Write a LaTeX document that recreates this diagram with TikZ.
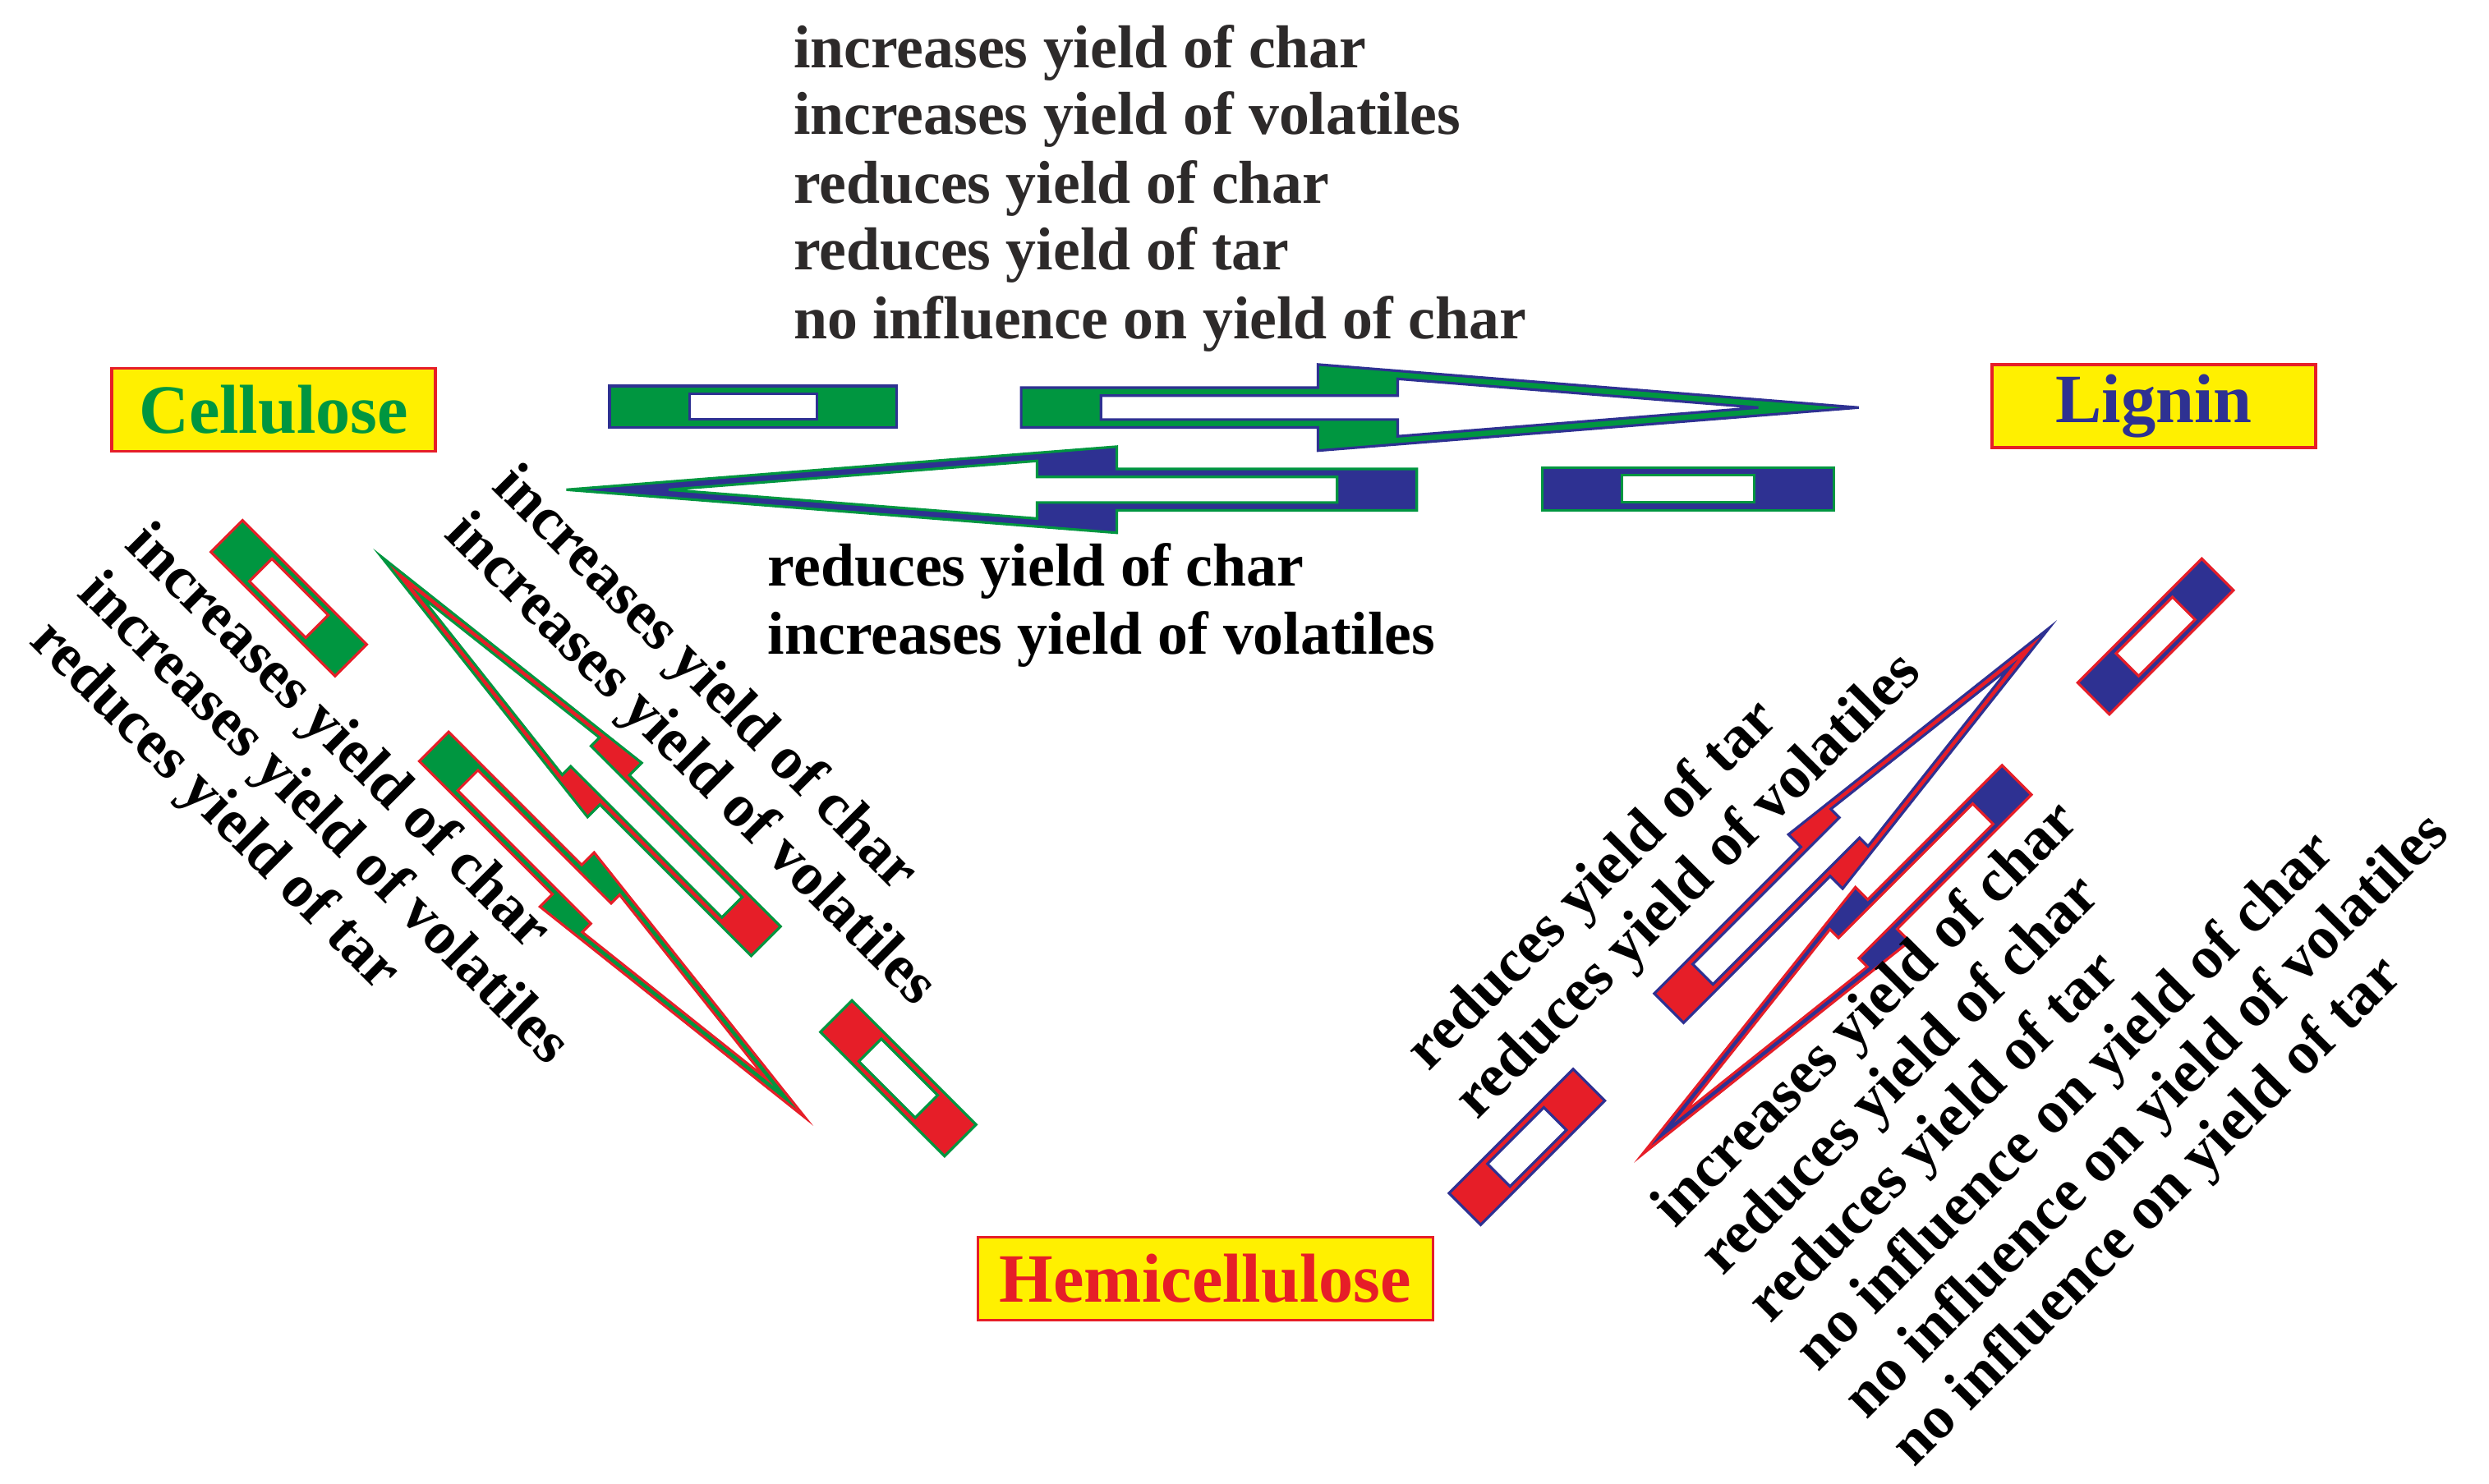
\documentclass[tikz,border=0pt]{standalone}
\usepackage{fontspec}
\setmainfont{Liberation Serif}
\definecolor{cgreen}{RGB}{0,150,64}
\definecolor{cnavy}{RGB}{46,49,146}
\definecolor{cred}{RGB}{230,30,40}
\definecolor{cyel}{RGB}{255,240,0}
\definecolor{ctxt}{RGB}{45,42,42}
\newcommand\tb{5}
\newcommand\kb{50}
% tail x, tail y, angle (screen, clockwise), length, head base, body hw, head hw, outline, fill
\newcommand\darrow[9]{%
 \begin{scope}[shift={(#1,#2)},rotate=-#3]
 \pgfmathsetmacro\xin{#4-\tb*veclen(#4-#5,#7)/(#7)}
 \pgfmathsetmacro\hin{(#7)*(\xin-(#5)-\kb)/((#4)-(#5))}
 \pgfmathsetmacro\wi{#6-\tb}
 \filldraw[fill=#9,draw=#8,shape line] (0,-#6)--(#5,-#6)--(#5,-#7)--(#4,0)--(#5,#7)--(#5,#6)--(0,#6)--cycle;
 \filldraw[fill=white,draw=#8,shape line] (\kb,-\wi)--(#5+\kb,-\wi)--(#5+\kb,-\hin)--(\xin,0)--(#5+\kb,\hin)--(#5+\kb,\wi)--(\kb,\wi)--cycle;
 \end{scope}}
% centre x, centre y, angle, length, hw, outline, fill
\newcommand\dbox[7]{%
 \begin{scope}[shift={(#1,#2)},rotate=-#3]
 \pgfmathsetmacro\wi{#5-\tb}
 \filldraw[fill=#7,draw=#6,shape line] (-#4/2,-#5) rectangle (#4/2,#5);
 \filldraw[fill=white,draw=#6,shape line] (-#4/2+\kb,-\wi) rectangle (#4/2-\kb,\wi);
 \end{scope}}
\begin{document}
\begin{tikzpicture}[x=0.019423cm,y=-0.019423cm,
 shape line/.style={line width=0.9pt,line join=miter},
 lbl/.style={font=\fontsize{21}{24}\selectfont\bfseries,inner sep=0pt,anchor=west},
 comp/.style={draw=cred,fill=cyel,line width=1pt,inner sep=0pt,minimum height=1.01cm,font=\fontsize{24}{28}\selectfont\bfseries}]
\useasboundingbox (0,0) rectangle (1560,930);
% top arrows
\dbox{472}{255}{0}{180}{13}{cnavy}{cgreen}
\darrow{640}{255.5}{0}{525}{186}{12.5}{27}{cnavy}{cgreen}
\darrow{888}{307}{180}{533}{188}{13}{27}{cgreen}{cnavy}
\dbox{1058}{306.5}{0}{183}{13.5}{cgreen}{cnavy}
% left side
\renewcommand\kb{30}
\renewcommand\tb{4}
\dbox{181}{375}{45}{110}{14}{cred}{cgreen}
\dbox{563}{676}{45}{110}{14}{cgreen}{cred}
\darrow{480}{590}{-135}{341}{134}{13}{24}{cgreen}{cred}
\darrow{272}{468}{45}{329}{118}{13}{24}{cred}{cgreen}
% right side
\dbox{1351}{399}{-45}{110}{14}{cred}{cnavy}
\dbox{957}{719}{-45}{110}{14}{cnavy}{cred}
\darrow{1046}{632}{-45}{337}{130}{13}{24}{cnavy}{cred}
\darrow{1264}{489}{135}{332}{119}{13}{24}{cred}{cnavy}
% component boxes
\node[comp,minimum width=3.94cm,text=cgreen] (cel) at (171.5,257) {Cellulose};
\node[comp,minimum width=3.94cm,text=cnavy] (lig) at (1350,254.5) {Lignin};
\node[comp,minimum width=5.54cm,text=cred] (hem) at (755.5,801.5) {Hemicellulose};
% top texts
\node[lbl,text=ctxt] (t1) at (497,33) {increases yield of char};
\node[lbl,text=ctxt] (t2) at (497,75) {increases yield of volatiles};
\node[lbl,text=ctxt] (t3) at (497,118) {reduces yield of char};
\node[lbl,text=ctxt] (t4) at (497,160) {reduces yield of tar};
\node[lbl,text=ctxt] (t5) at (497,203) {no influence on yield of char};
\node[lbl] (b1) at (481,358) {reduces yield of char};
\node[lbl] (b2) at (481,401) {increases yield of volatiles};
% left texts
\node[lbl,rotate=-45] (l1) at (84,336) {increases yield of char};
\node[lbl,rotate=-45] (l2) at (54,366) {increases yield of volatiles};
\node[lbl,rotate=-45] (l3) at (24,396) {reduces yield of tar};
\node[lbl,rotate=-45] (m1) at (314,299) {increases yield of char};
\node[lbl,rotate=-45] (m2) at (284,329) {increases yield of volatiles};
% right texts
\node[lbl,rotate=45] (r1) at (889,666) {reduces yield of tar};
\node[lbl,rotate=45] (r2) at (919,696) {reduces yield of volatiles};
\node[lbl,rotate=45] (s1) at (1043,764) {increases yield of char};
\node[lbl,rotate=45] (s2) at (1073,794) {reduces yield of char};
\node[lbl,rotate=45] (s3) at (1103,824) {reduces yield of tar};
\node[lbl,rotate=45] (s4) at (1133,854) {no influence on yield of char};
\node[lbl,rotate=45] (s5) at (1163,884) {no influence on yield of volatiles};
\node[lbl,rotate=45] (s6) at (1193,914) {no influence on yield of tar};
\end{tikzpicture}
\end{document}
